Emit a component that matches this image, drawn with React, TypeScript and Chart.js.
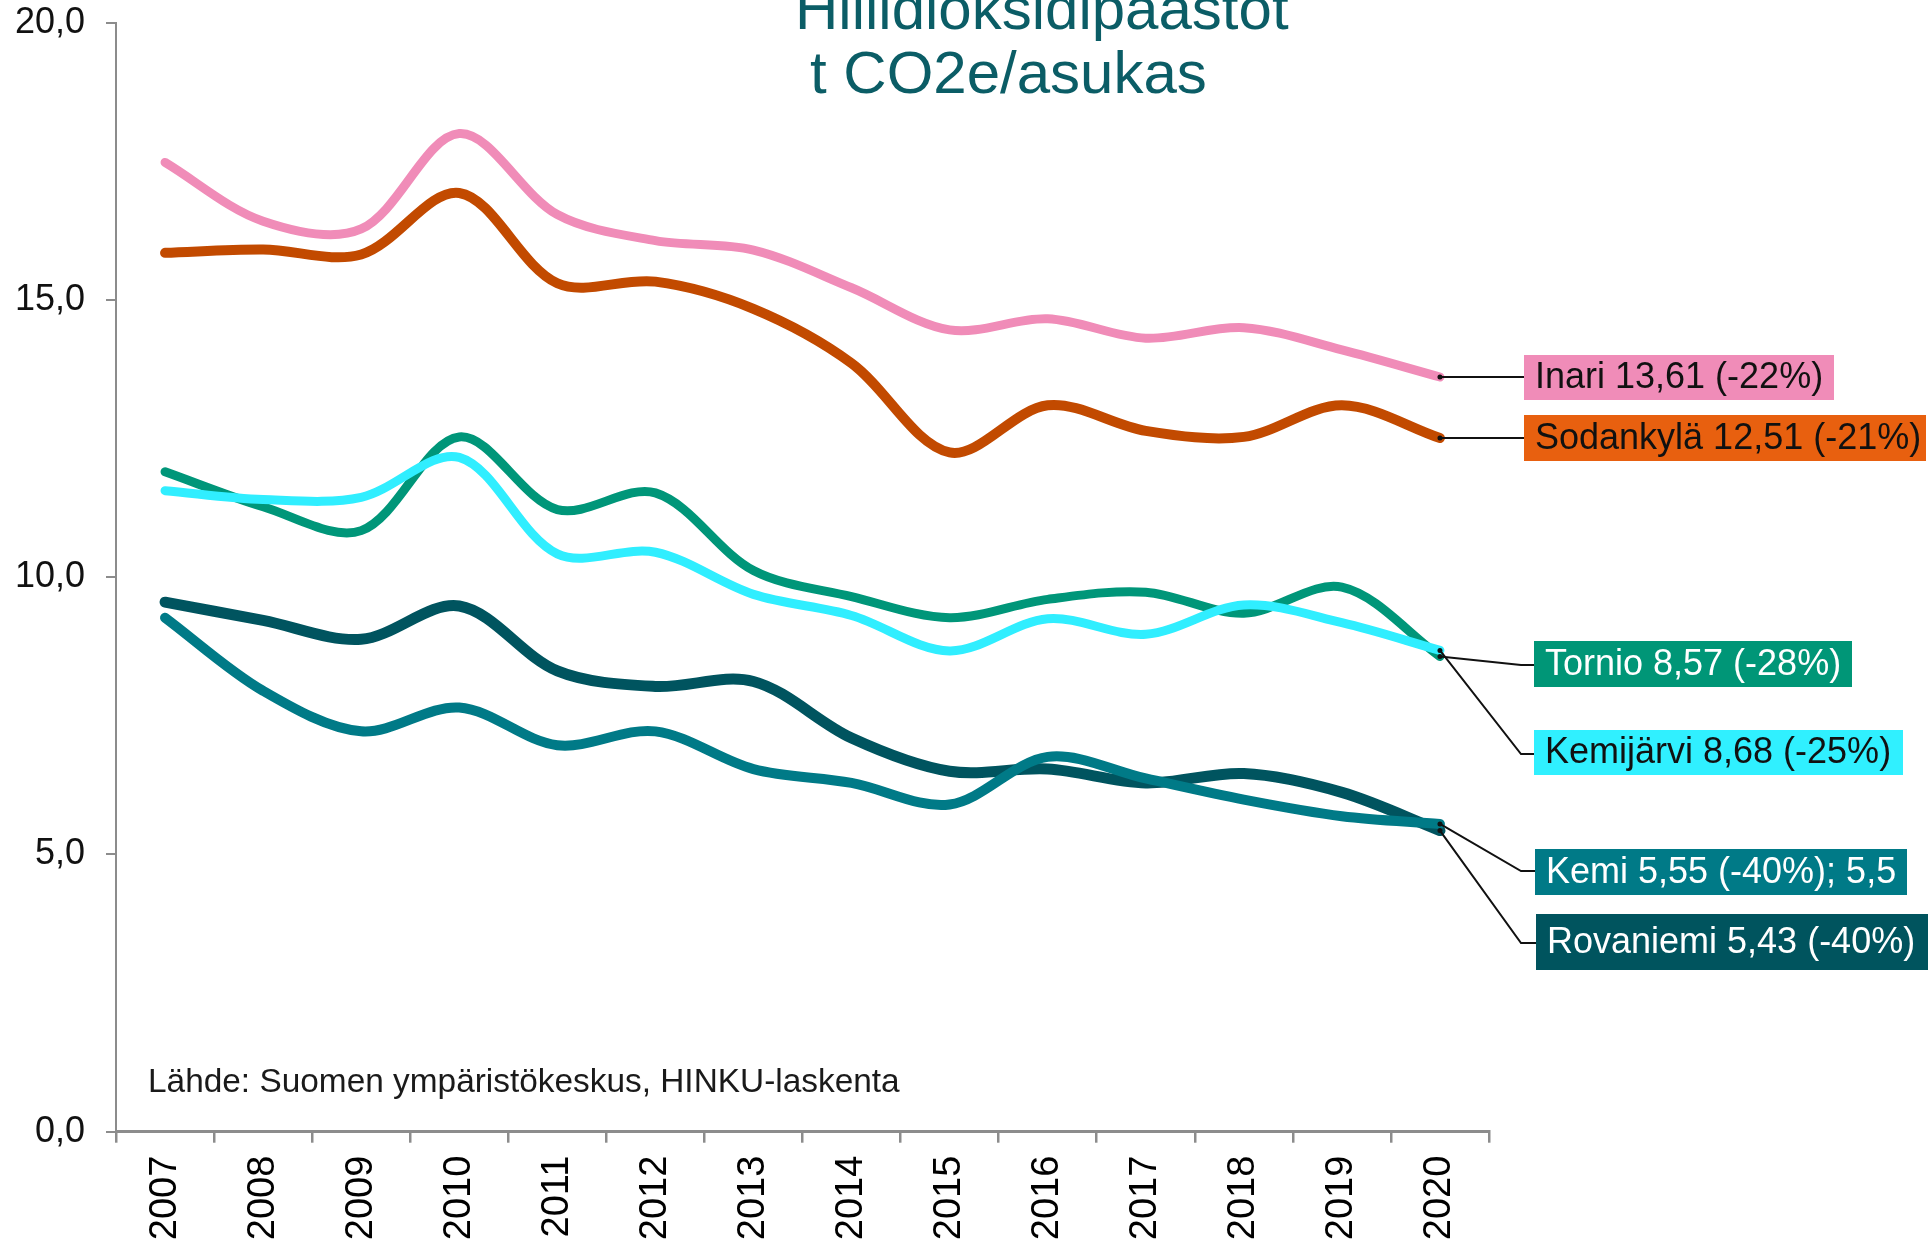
import { useEffect, useRef } from "react";
import { Chart, registerables } from "chart.js";

Chart.register(...registerables);

const years = ["2007", "2008", "2009", "2010", "2011", "2012", "2013", "2014", "2015", "2016", "2017", "2018", "2019", "2020"];

const inari = [17.48, 16.42, 16.28, 18.0, 16.54, 16.07, 15.9, 15.22, 14.46, 14.66, 14.31, 14.5, 14.1, 13.61];
const sodankyla = [15.85, 15.91, 15.82, 16.93, 15.3, 15.33, 14.84, 13.86, 12.25, 13.1, 12.64, 12.53, 13.1, 12.51];
const kemijarvi = [11.56, 11.4, 11.44, 12.16, 10.42, 10.45, 9.69, 9.31, 8.67, 9.25, 8.97, 9.5, 9.18, 8.68];
const tornio = [11.9, 11.27, 10.84, 12.53, 11.22, 11.52, 10.12, 9.65, 9.27, 9.6, 9.73, 9.35, 9.82, 8.57];
const kemi = [9.27, 7.95, 7.22, 7.65, 6.97, 7.22, 6.54, 6.29, 5.9, 6.76, 6.37, 5.99, 5.69, 5.55];
const rovaniemi = [9.55, 9.22, 8.88, 9.48, 8.31, 8.03, 8.12, 7.1, 6.5, 6.54, 6.29, 6.46, 6.12, 5.43];

const seriesNames = ["Inari", "Sodankylä", "Kemijärvi", "Tornio", "Kemi", "Rovaniemi"];
const calloutTexts = [
  "Inari 13,61 (-22%)",
  "Sodankylä 12,51 (-21%)",
  "Kemijärvi 8,68 (-25%)",
  "Tornio 8,57 (-28%)",
  "Kemi 5,55 (-40%); 5,5",
  "Rovaniemi 5,43 (-40%)",
];

const titleLines = ["Hiilidioksidipäästöt", "t CO2e/asukas"];
const sourceText = "Lähde: Suomen ympäristökeskus, HINKU-laskenta";

const FONT = '"Liberation Sans", Arial, Helvetica, sans-serif';

const lineColors = ["#f08cb8", "#c24a00", "#30eeff", "#009679", "#007a87", "#00545f"];
const lineWidths = [9, 10, 9, 9, 10, 11];
const boxColors = ["#f08cb8", "#e8600f", "#30f0ff", "#009677", "#007a87", "#00545e"];
const boxTextColors = ["#111", "#111", "#111", "#fff", "#fff", "#fff"];

// callout boxes: x, y, w, h, elbow (x,y) or null
const calloutLayout = [
  { x: 1524, y: 355, w: 310, h: 45, elbow: null as null | [number, number] },
  { x: 1524, y: 415, w: 402, h: 46, elbow: null as null | [number, number] },
  { x: 1534, y: 730, w: 369, h: 45, elbow: [1521, 754] as [number, number] },
  { x: 1534, y: 641, w: 318, h: 46, elbow: [1521, 665] as [number, number] },
  { x: 1535, y: 849, w: 372, h: 46, elbow: [1521, 871] as [number, number] },
  { x: 1536, y: 914, w: 392, h: 56, elbow: [1521, 943] as [number, number] },
];

export default function App() {
  const canvasRef = useRef<HTMLCanvasElement | null>(null);

  useEffect(() => {
    document.body.style.margin = "0";
    const canvas = canvasRef.current;
    if (!canvas) return;
    const allSeries = [inari, sodankyla, kemijarvi, tornio, kemi, rovaniemi];

    const overlayPlugin = {
      id: "overlay",
      afterDatasetsDraw(chart: any) {
        const ctx = chart.ctx as CanvasRenderingContext2D;
        const xs = chart.scales.x;
        const ys = chart.scales.y;
        const last = years.length - 1;
        ctx.save();
        allSeries.forEach((vals, i) => {
          const px = xs.getPixelForValue(last);
          const py = ys.getPixelForValue(vals[last]);
          const L = calloutLayout[i];
          ctx.strokeStyle = "#111";
          ctx.lineWidth = 2;
          ctx.beginPath();
          ctx.moveTo(px, py);
          if (L.elbow) {
            ctx.lineTo(L.elbow[0], L.elbow[1]);
            ctx.lineTo(L.x, L.elbow[1]);
          } else {
            ctx.lineTo(L.x, py);
          }
          ctx.stroke();
          ctx.fillStyle = "#111";
          ctx.beginPath();
          ctx.arc(px, py, 2.5, 0, Math.PI * 2);
          ctx.fill();
          ctx.fillStyle = boxColors[i];
          ctx.fillRect(L.x, L.y, L.w, L.h);
          ctx.fillStyle = boxTextColors[i];
          ctx.font = `36px ${FONT}`;
          ctx.textBaseline = "middle";
          ctx.textAlign = "left";
          ctx.fillText(calloutTexts[i], L.x + 11, L.y + L.h / 2 + 1);
        });
        ctx.restore();
      },
      afterDraw(chart: any) {
        const ctx = chart.ctx as CanvasRenderingContext2D;
        ctx.save();
        ctx.fillStyle = "#0b5d66";
        ctx.font = `60px ${FONT}`;
        ctx.textAlign = "left";
        ctx.textBaseline = "alphabetic";
        ctx.fillText(titleLines[0], 795, 29);
        ctx.fillText(titleLines[1], 810, 93);
        ctx.fillStyle = "#1a1a1a";
        ctx.font = `33.4px ${FONT}`;
        ctx.fillText(sourceText, 148, 1092);
        ctx.restore();
      },
    };

    const chart = new Chart(canvas, {
      type: "line",
      data: {
        labels: years,
        datasets: allSeries.map((vals, i) => ({
          label: seriesNames[i],
          data: vals,
          borderColor: lineColors[i],
          backgroundColor: lineColors[i],
          borderWidth: lineWidths[i],
          borderCapStyle: "round" as const,
          borderJoinStyle: "round" as const,
          pointRadius: 0,
          pointHoverRadius: 0,
          tension: 0.33,
          fill: false,
        })),
      },
      options: {
        responsive: false,
        animation: false,
        devicePixelRatio: 1,
        layout: { padding: { left: 0, right: 442, top: 22.7, bottom: 0 } },
        plugins: {
          legend: { display: false },
          tooltip: { enabled: false },
          title: { display: false },
        },
        scales: {
          x: {
            type: "category",
            offset: true,
            afterFit: (scale: any) => {
              scale.height = 113.3;
            },
            grid: {
              display: true,
              offset: true,
              drawOnChartArea: false,
              drawTicks: true,
              tickLength: 11,
              color: "#8c8c8c",
              lineWidth: 2.5,
            },
            border: { display: true, color: "#8c8c8c", width: 3 },
            ticks: {
              autoSkip: false,
              maxRotation: 90,
              minRotation: 90,
              padding: 13,
              color: "#000",
              font: { family: FONT, size: 38 },
            },
          },
          y: {
            min: 0,
            max: 20,
            afterFit: (scale: any) => {
              scale.width = 116;
              scale.paddingTop = 0;
              scale.paddingBottom = 0;
            },
            grid: {
              display: true,
              drawOnChartArea: false,
              drawTicks: true,
              tickLength: 10,
              color: "#8c8c8c",
              lineWidth: 2,
            },
            border: { display: true, color: "#8c8c8c", width: 2 },
            ticks: {
              stepSize: 5,
              padding: 21,
              color: "#111",
              font: { family: FONT, size: 36 },
              callback: (v: any) => Number(v).toFixed(1).replace(".", ","),
            },
          },
        },
      },
      plugins: [overlayPlugin],
    });

    return () => {
      chart.destroy();
    };
  }, []);

  return (
    <div style={{ width: 1931, height: 1245, position: "relative", overflow: "hidden" }}>
      <canvas ref={canvasRef} width={1931} height={1245} style={{ display: "block", width: 1931, height: 1245 }} />
    </div>
  );
}
